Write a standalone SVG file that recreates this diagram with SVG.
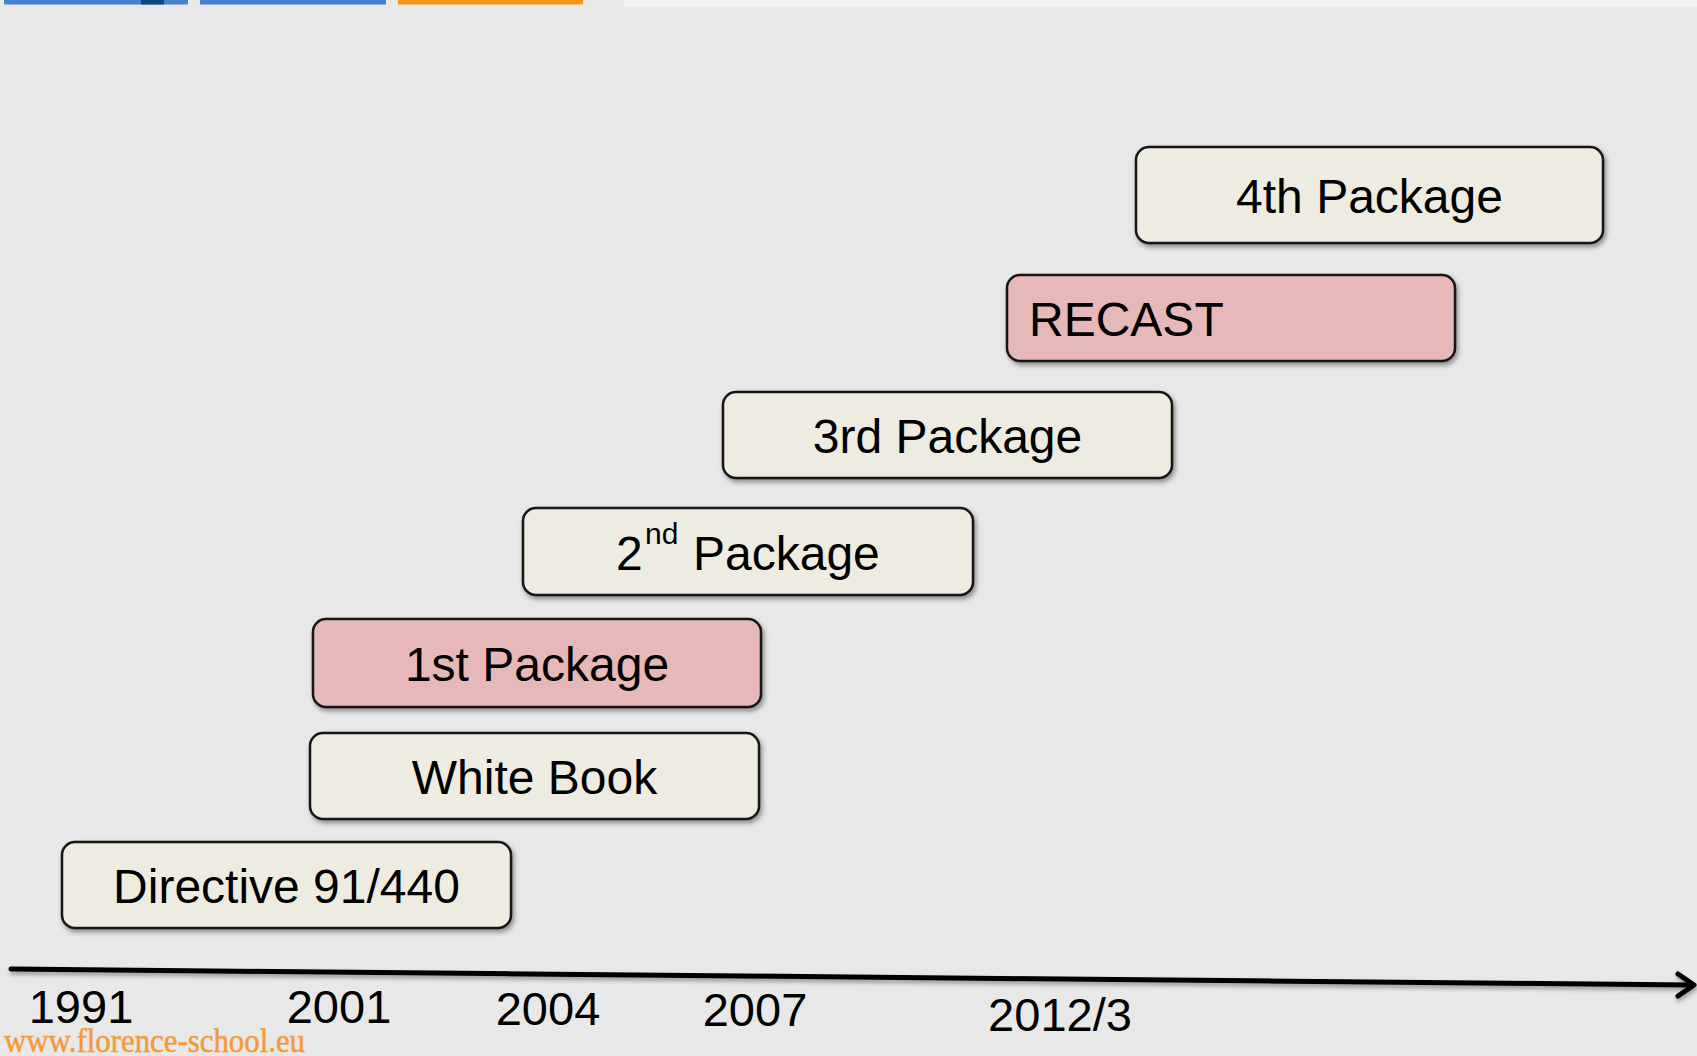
<svg xmlns="http://www.w3.org/2000/svg" width="1697" height="1056" viewBox="0 0 1697 1056">
  <defs>
    <filter id="shadow" x="-10%" y="-30%" width="120%" height="170%">
      <feDropShadow dx="2" dy="3" stdDeviation="2.5" flood-color="#000" flood-opacity="0.4"/>
    </filter>
    <filter id="lineShadow" x="-5%" y="-200%" width="110%" height="500%">
      <feDropShadow dx="1" dy="3" stdDeviation="2" flood-color="#000" flood-opacity="0.35"/>
    </filter>
  </defs>
  <style>
    .box { stroke: #141414; stroke-width: 2.5; filter: url(#shadow); }
    .tan { fill: #EEECE1; }
    .rose { fill: #E6B8B7; }
    .label { font-family: "Liberation Sans", Arial, sans-serif; font-size: 48px; fill: #000; }
    .year { font-family: "Liberation Sans", Arial, sans-serif; font-size: 47px; fill: #000; text-anchor: middle; }
    .axis { stroke: #000; stroke-width: 5; fill: none; stroke-linecap: round; stroke-linejoin: round; }
    .site { font-family: "Liberation Serif", "Times New Roman", serif; font-size: 33px; fill: #F39A3B; stroke: #F39A3B; stroke-width: 0.5; }
  </style>

  <!-- page background -->
  <rect x="0" y="0" width="1697" height="1056" fill="#E8E8E8"/>

  <!-- header tabs -->
  <g id="header">
    <rect x="4" y="0" width="184" height="4.5" fill="#4482CC"/>
    <rect x="141" y="0" width="23" height="4.5" fill="#0D4A78"/>
    <rect x="200" y="0" width="186" height="4.5" fill="#4482CC"/>
    <rect x="398" y="0" width="185" height="4.5" fill="#F7941D"/>
    <rect x="624" y="0" width="1073" height="7" fill="#F2F2F2"/>
  </g>

  <!-- time axis -->
  <g id="connectors">
    <g filter="url(#lineShadow)">
      <line class="axis" x1="11" y1="969" x2="1692" y2="985"/>
      <polyline class="axis" points="1678,974 1694,985 1678,996"/>
    </g>
  </g>

  <!-- year labels -->
  <g id="years">
    <text class="year" x="81" y="1023">1991</text>
    <text class="year" x="339" y="1023">2001</text>
    <text class="year" x="548" y="1025">2004</text>
    <text class="year" x="755" y="1026">2007</text>
    <text class="year" x="1060" y="1031">2012/3</text>
  </g>

  <!-- milestones -->
  <g id="node-directive">
    <rect class="box tan" x="62" y="842" width="449" height="86" rx="13"/>
    <text class="label" x="286.5" y="903" text-anchor="middle">Directive 91/440</text>
  </g>

  <g id="node-white-book">
    <rect class="box tan" x="310" y="733" width="449" height="86" rx="13"/>
    <text class="label" x="534.5" y="794" text-anchor="middle">White Book</text>
  </g>

  <g id="node-1st-package">
    <rect class="box rose" x="313" y="619" width="448" height="88" rx="13"/>
    <text class="label" x="537" y="681" text-anchor="middle">1st Package</text>
  </g>

  <g id="node-2nd-package">
    <rect class="box tan" x="523" y="508" width="450" height="87" rx="13"/>
    <text class="label" x="616" y="570">2<tspan x="645" font-size="30" dy="-26">nd</tspan><tspan x="693" dy="26">Package</tspan></text>
  </g>

  <g id="node-3rd-package">
    <rect class="box tan" x="723" y="392" width="449" height="86" rx="13"/>
    <text class="label" x="947.5" y="453" text-anchor="middle">3rd Package</text>
  </g>

  <g id="node-recast">
    <rect class="box rose" x="1007" y="275" width="448" height="86" rx="13"/>
    <text class="label" x="1029" y="336">RECAST</text>
  </g>

  <g id="node-4th-package">
    <rect class="box tan" x="1136" y="147" width="467" height="96" rx="13"/>
    <text class="label" x="1369.5" y="213" text-anchor="middle">4th Package</text>
  </g>

  <!-- site address -->
  <text class="site" x="4" y="1052" textLength="301" lengthAdjust="spacingAndGlyphs">www.florence-school.eu</text>
</svg>
